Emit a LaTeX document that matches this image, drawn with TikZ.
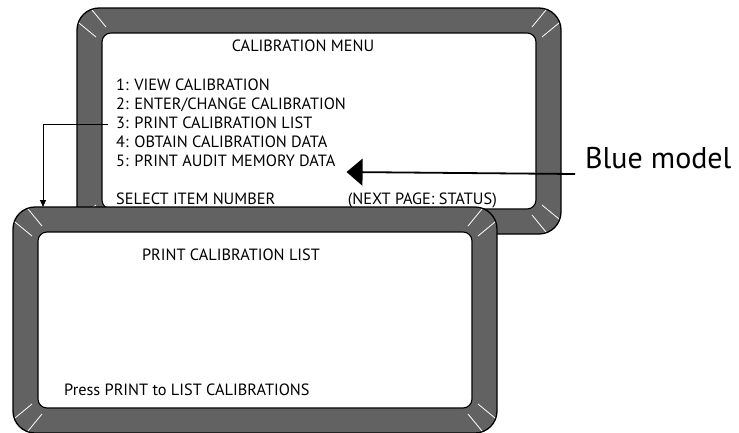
\documentclass[tikz,border=0pt]{standalone}
\usepackage{fontspec}
\setmainfont{PT Sans}
\usetikzlibrary{arrows.meta}
\definecolor{bezelgray}{RGB}{98,98,98}
\tikzset{
  bezel/.style={fill=bezelgray, draw=black, line width=1.3pt, rounded corners=22pt},
  glass/.style={fill=white, draw=black, line width=1.1pt, rounded corners=9pt},
  tickline/.style={draw=white, line width=0.8pt},
  scrtext/.style={inner sep=0pt, anchor=base west, font=\fontsize{16.3}{19}\selectfont},
  scrhead/.style={inner sep=0pt, anchor=base, font=\fontsize{16.3}{19}\selectfont},
  bigarrow/.style={line width=1.8pt, -{Triangle[length=16pt,width=27pt]}},
  smallarrow/.style={line width=0.9pt, -{Triangle[length=7pt,width=6pt]}}
}
\newcommand\cornerticks[4]{%
  \begin{scope}[shift={(#1,#2)}, xscale=#3, yscale=#4]
    \draw[tickline] (15,2) -- (29,19) (2,15) -- (19,29);
  \end{scope}}
\newcommand\screenframe[4]{%
  \path[bezel] (#1,#2) rectangle (#3,#4);
  \path[glass] (#1+25,#2+25) rectangle (#3-25,#4-25);
  \cornerticks{#1}{#2}{1}{1}
  \cornerticks{#3}{#2}{-1}{1}
  \cornerticks{#1}{#4}{1}{-1}
  \cornerticks{#3}{#4}{-1}{-1}}
\begin{document}
\begin{tikzpicture}[x=1pt,y=-1pt]
\useasboundingbox (0,0) rectangle (739,432);
% back screen
\screenframe{77}{8}{561}{234}
\node[scrhead] (bhead) at (303,51) {CALIBRATION MENU};
\node[scrtext] (item1) at (116,90) {1: VIEW CALIBRATION};
\node[scrtext] (item2) at (116,109) {2: ENTER/CHANGE CALIBRATION};
\node[scrtext] (item3) at (116,128) {3: PRINT CALIBRATION LIST};
\node[scrtext] (item4) at (116,147) {4: OBTAIN CALIBRATION DATA};
\node[scrtext] (item5) at (116,166) {5: PRINT AUDIT MEMORY DATA};
\node[scrtext] (sel) at (116,204) {SELECT ITEM NUMBER};
\node[scrtext, anchor=base east] (next) at (497,204) {(NEXT PAGE: STATUS)};
% front screen
\screenframe{13}{207}{497}{433}
\node[scrhead] (fhead) at (231,260) {PRINT CALIBRATION LIST};
\node[scrtext] (press) at (64,395) {Press PRINT to LIST CALIBRATIONS};
\coordinate (ftop) at (43,207);
% connectors
\draw[smallarrow] ([xshift=-8pt,yshift=-2pt]item3.west) -| (ftop);
\node[inner sep=0pt, anchor=base west, font=\fontsize{30}{34}\selectfont] (blue) at (585,168) {Blue model};
\draw[bigarrow] ([xshift=-10pt,yshift=-6pt]blue.base west) -- ([xshift=11pt,yshift=-6pt]item5.base east);
\end{tikzpicture}
\end{document}
